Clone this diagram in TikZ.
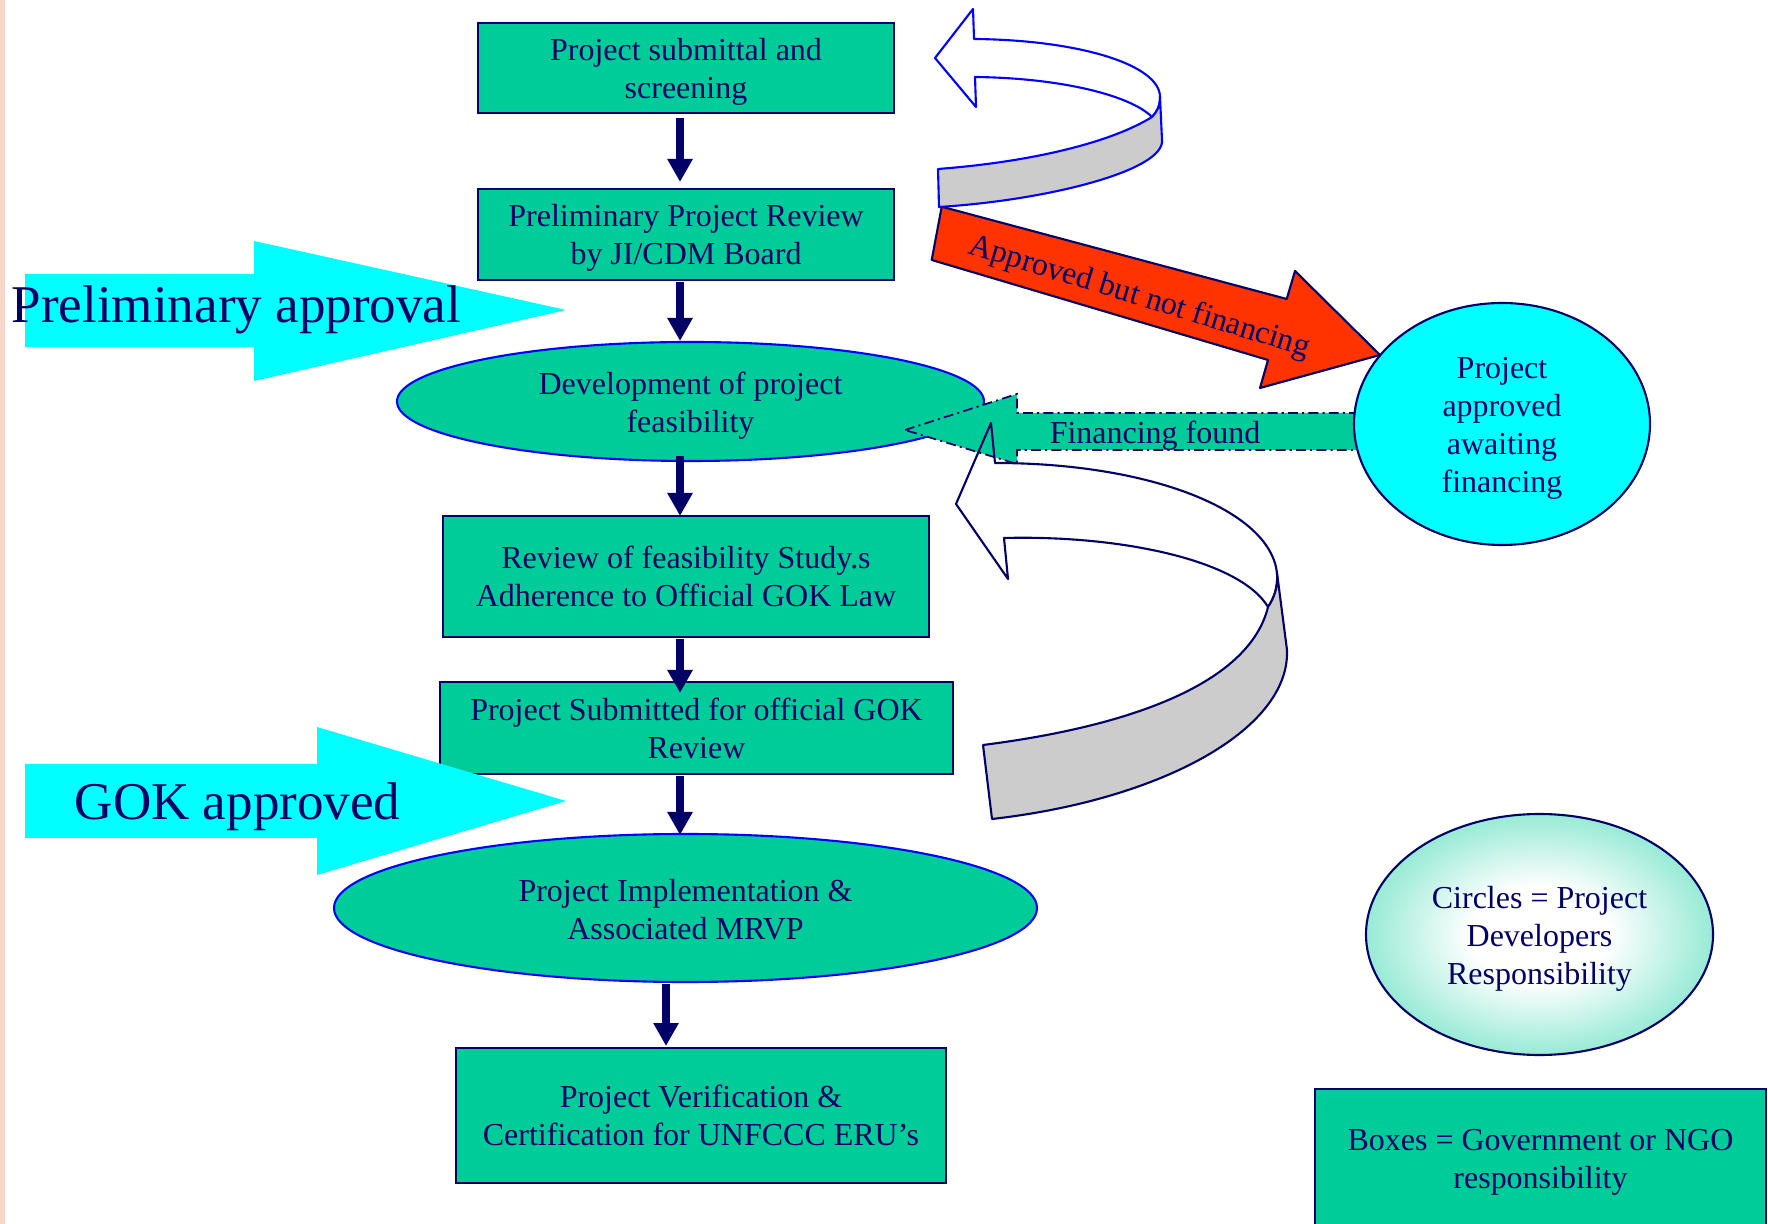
\documentclass[tikz,border=0pt]{standalone}
\usepackage{fontspec}
\setmainfont{Liberation Serif}
\usetikzlibrary{shapes,arrows.meta,positioning,calc}
\definecolor{boxgreen}{RGB}{0,204,153}
\definecolor{inknavy}{RGB}{0,0,102}
\definecolor{rimblue}{RGB}{0,0,255}
\definecolor{signcyan}{RGB}{0,255,255}
\definecolor{warnred}{RGB}{255,51,0}
\definecolor{bandgray}{RGB}{204,204,204}
\definecolor{edgepeach}{RGB}{248,214,200}
\pgfdeclareradialshading{legendglow}{\pgfpoint{0bp}{0bp}}{color(0bp)=(white); color(10bp)=(white); color(47bp)=(boxgreen); color(50bp)=(boxgreen)}
\newcommand{\flowfont}{\fontsize{9.1}{10.8}\selectfont}
\newcommand{\bannerfont}{\fontsize{15.1}{18}\selectfont}
\newcommand{\liftline}[1]{\rule{0pt}{#1}}

\begin{document}
\begin{tikzpicture}[x=0.1mm, y=-0.1mm,
    govbox/.style={draw=inknavy, line width=0.6pt, fill=boxgreen, text=inknavy, align=center, inner sep=0pt, outer sep=0pt, font=\flowfont},
    devoval/.style={ellipse, draw=rimblue, line width=0.6pt, fill=boxgreen, text=inknavy, align=center, inner sep=0pt, outer sep=0pt, font=\flowfont},
    flow/.style={draw=inknavy, line width=2pt, -{Triangle[length=2.3mm, width=2.4mm]}},
    banner/.style={fill=signcyan, draw=none},
    bigword/.style={text=inknavy, font=\bannerfont, inner sep=0pt, anchor=base west},
    ribbonface/.style={line width=0.6pt, line join=round},
    ribbonside/.style={line width=0.6pt, line join=round, fill=bandgray}]
    \useasboundingbox (0,0) rectangle (1768,1224);
    \fill[edgepeach] (0,0) rectangle (5,1224);

    % Main flow
    \node[govbox, minimum width=41.6mm, minimum height=9.0mm] (submit) at (686,68) {\liftline{3.0mm}Project submittal and\\screening};
    \node[govbox, minimum width=41.6mm, minimum height=9.1mm] (prelim) at (686,234.5) {\liftline{2.9mm}Preliminary Project Review\\by JI/CDM Board};
    \node[devoval, minimum width=58.7mm, minimum height=11.9mm] (feasible) at (690.5,401.5) {\liftline{3.0mm}Development of project\\feasibility};
    \node[govbox, minimum width=48.6mm, minimum height=12.1mm] (review) at (686,576.5) {Review of feasibility Study.s\\Adherence to Official GOK Law};
    \node[govbox, minimum width=51.3mm, minimum height=9.2mm] (gokreview) at (696.5,728) {Project Submitted for official GOK\\Review};
    \node[devoval, minimum width=70.3mm, minimum height=14.8mm] (implement) at (685.5,908) {\liftline{2.6mm}Project Implementation \&\\Associated MRVP};
    \node[govbox, minimum width=49.0mm, minimum height=13.5mm] (verify) at (701,1115.5) {Project Verification \&\\Certification for UNFCCC ERU’s};

    % Arrows down the flow
    \coordinate (spine) at (680,0);
    \coordinate (lowspine) at (666,0);
    \draw[flow, shorten <=0.5mm, shorten >=0.7mm] (submit.south -| spine) -- (prelim.north -| spine);
    \draw[flow, shorten <=0.2mm, shorten >=0.1mm] (prelim.south -| spine) -- (feasible.north -| spine);
    \draw[flow, shorten <=-0.5mm] (feasible.south -| spine) -- (review.north -| spine);
    \draw[flow, shorten <=0.2mm, shorten >=-1.1mm] (review.south -| spine) -- (gokreview.north -| spine);
    \draw[flow, shorten <=0.2mm, shorten >=-0.1mm] (gokreview.south -| spine) -- (implement.north -| spine);
    \draw[flow, shorten <=0.2mm, shorten >=0.2mm] (implement.south -| lowspine) -- (verify.north -| lowspine);

    % Approval banners
    \fill[banner] (25,274) -- (254,274) -- (254,241) -- (566,310) -- (254,381) -- (254,347) -- (25,347) -- cycle;
    \node[bigword] (prelimword) at (11,323) {Preliminary approval};
    \fill[banner] (25,764) -- (317,764) -- (317,727) -- (566,801) -- (317,875) -- (317,838) -- (25,838) -- cycle;
    \node[bigword] (gokword) at (74,820) {GOK approved};

    % Approved but not financing
    \filldraw[fill=warnred, draw=inknavy, line width=0.6pt, line join=round] (941.7,206.7) -- (1286.7,299) -- (1295,271) -- (1380,355) -- (1260,388) -- (1268,360) -- (931.7,260) -- cycle;
    \node[rotate=-17, anchor=base, text=inknavy, font=\flowfont, inner sep=0pt] (declined) at (1137,305) {Approved but not financing};

    % Loop back to submittal
    \draw[ribbonface, draw=rimblue] (935,58) -- (973,9) -- (974,39) .. controls (1080,40) and (1160,65) .. (1160,97) .. controls (1160,106) and (1157,112) .. (1152,117) .. controls (1130,95) and (1060,78) .. (975,77) -- (976,107) -- cycle;
    \filldraw[ribbonside, draw=rimblue] (1152,117) .. controls (1110,143) and (1030,162) .. (938,169) -- (939,207) .. controls (1050,200) and (1165,170) .. (1162,140) -- (1160,97) .. controls (1160,106) and (1157,112) .. (1152,117) -- cycle;

    % Financing found
    \filldraw[fill=boxgreen, draw=inknavy, line width=0.5pt, dash pattern=on 2.8pt off 1.2pt on 0.6pt off 1.2pt] (905,430) -- (1017,394) -- (1017,413) -- (1360,413) -- (1360,450) -- (1017,450) -- (1017,464) -- cycle;
    \node[text=inknavy, font=\flowfont] (fundword) at (1155,436) {Financing found};

    % Loop back to feasibility
    \draw[ribbonface, draw=inknavy] (956,504) -- (991,423) -- (995,463) .. controls (1150,463) and (1270,510) .. (1277,573) .. controls (1278,588) and (1274,598) .. (1268,607) .. controls (1240,560) and (1120,535) .. (1004,538) -- (1008,579) -- cycle;
    \filldraw[ribbonside, draw=inknavy] (1268,607) .. controls (1250,680) and (1140,725) .. (983,745) -- (992,819) .. controls (1160,800) and (1290,730) .. (1287,650) -- (1277,573) .. controls (1278,588) and (1274,598) .. (1268,607) -- cycle;

    % Waiting for financing
    \node[ellipse, draw=inknavy, line width=0.6pt, fill=signcyan, text=inknavy, align=center, inner sep=0pt, font=\flowfont, minimum width=29.6mm, minimum height=24.2mm] (awaiting) at (1502,424) {\liftline{3.0mm}Project\\approved\\awaiting\\financing};

    % Legend
    \node[ellipse, draw=inknavy, line width=0.6pt, shade, shading=legendglow, text=inknavy, align=center, inner sep=0pt, font=\flowfont, minimum width=34.7mm, minimum height=24.1mm] (legendoval) at (1539.5,934.5) {\liftline{3.0mm}Circles = Project\\Developers\\Responsibility};
    \node[govbox, minimum width=45.1mm, minimum height=14.0mm] (legendbox) at (1540.5,1159) {\liftline{2.8mm}Boxes = Government or NGO\\responsibility};
\end{tikzpicture}
\end{document}
